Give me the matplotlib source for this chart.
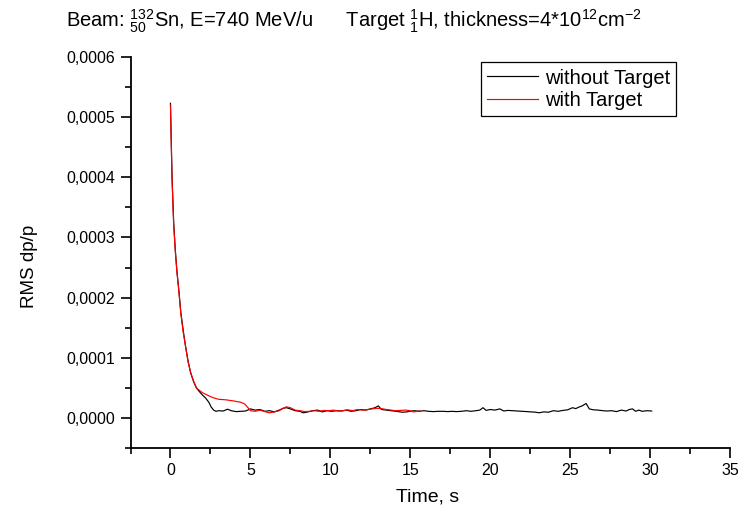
import numpy as np
import matplotlib
matplotlib.use("Agg")
import matplotlib.pyplot as plt
from matplotlib.ticker import FuncFormatter, MultipleLocator

plt.rcParams['font.family'] = ['Liberation Sans', 'DejaVu Sans']
plt.rcParams['mathtext.fontset'] = 'custom'
plt.rcParams['mathtext.rm'] = 'Liberation Sans'
plt.rcParams['mathtext.it'] = 'Liberation Sans'

# RMS dp/p in units of 1e-4
t_without = [0.0, 0.05, 0.1, 0.2, 0.3, 0.4, 0.52, 0.65, 0.8, 0.95, 1.1, 1.26, 1.45, 1.62,
             1.8, 2.0, 2.2, 2.4, 2.55, 2.7, 2.85, 3.0, 3.3, 3.57, 3.8, 4.1, 4.4, 4.7,
             5.0, 5.3, 5.6, 5.9, 6.2, 6.5, 6.8, 7.05, 7.25, 7.5, 7.8, 8.1, 8.3, 8.6,
             8.9, 9.2, 9.5, 9.8, 10.1, 10.4, 10.7, 11.0, 11.3, 11.6, 11.9, 12.2, 12.5,
             12.8, 13.0, 13.2, 13.5, 13.8, 14.1, 14.5, 14.8, 14.95, 15.25, 15.55, 15.85,
             16.15, 16.45, 16.75, 17.05, 17.35, 17.6, 17.9, 18.2, 18.5, 18.8, 19.1, 19.35,
             19.55, 19.75, 20.0, 20.3, 20.6, 20.85, 21.1, 21.4, 21.7, 22.0, 22.3, 22.55,
             22.85, 23.05, 23.35, 23.65, 23.95, 24.25, 24.55, 24.85, 25.15, 25.35, 25.55, 25.75,
             26.0, 26.2, 26.45, 26.75, 27.05, 27.3, 27.6, 27.9, 28.2, 28.5, 28.7, 28.9,
             29.1, 29.3, 29.5, 29.8, 30.1]
rms_without = [5.23, 4.6, 4.0, 3.25, 2.8, 2.45, 2.13, 1.75, 1.45, 1.18, 0.95, 0.75, 0.6, 0.5,
               0.44, 0.38, 0.33, 0.26, 0.18, 0.13, 0.11, 0.12, 0.115, 0.145, 0.12, 0.105, 0.11, 0.115,
               0.15, 0.13, 0.14, 0.11, 0.12, 0.1, 0.13, 0.16, 0.17, 0.15, 0.12, 0.11, 0.085, 0.1,
               0.12, 0.13, 0.1, 0.12, 0.11, 0.12, 0.115, 0.13, 0.11, 0.12, 0.14, 0.13, 0.15,
               0.17, 0.2, 0.14, 0.13, 0.12, 0.11, 0.095, 0.1, 0.11, 0.12, 0.11, 0.12,
               0.11, 0.105, 0.11, 0.11, 0.105, 0.11, 0.105, 0.11, 0.12, 0.11, 0.12, 0.13,
               0.17, 0.125, 0.14, 0.13, 0.15, 0.115, 0.125, 0.12, 0.115, 0.11, 0.105, 0.1,
               0.095, 0.085, 0.1, 0.095, 0.12, 0.11, 0.125, 0.135, 0.17, 0.155, 0.18, 0.2,
               0.24, 0.15, 0.135, 0.13, 0.12, 0.115, 0.12, 0.105, 0.13, 0.115, 0.14, 0.15,
               0.11, 0.13, 0.11, 0.12, 0.115]

t_with = [0.0, 0.05, 0.1, 0.2, 0.3, 0.4, 0.52, 0.65, 0.8, 0.95, 1.1, 1.26, 1.45, 1.62,
          1.8, 2.0, 2.3, 2.63, 3.0, 3.5, 4.0, 4.4, 4.65, 4.85, 5.0, 5.3, 5.6, 5.9, 6.2,
          6.5, 6.8, 7.05, 7.25, 7.5, 7.8, 8.1, 8.4, 8.7, 9.0, 9.3, 9.6, 9.9, 10.2, 10.5,
          10.8, 11.1, 11.4, 11.7, 12.0, 12.3, 12.6, 12.9, 13.2, 13.5, 13.8, 14.1, 14.4,
          14.7, 15.0, 15.2, 15.45, 15.6]
rms_with = [5.2, 4.55, 3.95, 3.22, 2.78, 2.44, 2.12, 1.73, 1.42, 1.18, 0.93, 0.76, 0.61, 0.5,
            0.46, 0.42, 0.38, 0.34, 0.31, 0.3, 0.28, 0.26, 0.23, 0.17, 0.12, 0.11, 0.13, 0.105, 0.085,
            0.1, 0.12, 0.16, 0.185, 0.17, 0.13, 0.12, 0.105, 0.11, 0.12, 0.11, 0.125, 0.12, 0.13, 0.115,
            0.12, 0.135, 0.12, 0.14, 0.13, 0.135, 0.15, 0.16, 0.155, 0.14, 0.13, 0.12, 0.125,
            0.13, 0.12, 0.1, 0.11, 0.12]

W, H = 738, 513
fig = plt.figure(figsize=(W/100, H/100), dpi=100)
ax = fig.add_axes([130.5/W, (H-448)/H, 599.5/W, 391/H])

ax.plot(t_without, np.array(rms_without)*1e-4, color='black', lw=0.85, label='without Target')
ax.plot(t_with, np.array(rms_with)*1e-4, color='red', lw=0.85, label='with Target')

ax.set_xlim(-2.5, 35)
ax.set_ylim(-0.00005, 0.0006)
ax.xaxis.set_major_locator(MultipleLocator(5))
ax.xaxis.set_minor_locator(MultipleLocator(2.5))
ax.yaxis.set_major_locator(MultipleLocator(0.0001))
ax.yaxis.set_minor_locator(MultipleLocator(0.00005))
ax.yaxis.set_major_formatter(FuncFormatter(lambda v, p: '' if v < -1e-9 else ('%.4f' % abs(v)).replace('.', ',')))

for s in ['top', 'right']:
    ax.spines[s].set_visible(False)
for s in ['left', 'bottom']:
    ax.spines[s].set_linewidth(1.3)
ax.tick_params(which='major', direction='out', length=7, width=1.2, labelsize=11.5, pad=4)
ax.tick_params(which='minor', direction='out', length=4.5, width=1.2)

fig.text(427.5/W, 1 - 497/H, 'Time, s', fontsize=14, ha='center', va='center')
fig.text(29/W, 1 - 266/H, 'RMS dp/p', fontsize=13.5, ha='center', va='center', rotation=90)

leg = ax.legend(loc='upper right', bbox_to_anchor=((676-130.5)/599.5, (448-62.5)/391),
                fontsize=14.5, frameon=True, fancybox=False, edgecolor='black',
                handlelength=2.5, handletextpad=0.35, borderpad=0.3, labelspacing=0.15,
                borderaxespad=0)
leg.get_frame().set_linewidth(0.9)
leg.get_frame().set_alpha(1)

fig.text(66/W, 1 - 21.5/H,
         r'Beam: ${}^{132}_{50}$Sn, E=740 MeV/u      Target ${}^{1}_{1}$H, thickness=4*10$^{12}$cm$^{-2}$',
         fontsize=14.5, ha='left', va='center')

fig.savefig('out.png', dpi=100)
